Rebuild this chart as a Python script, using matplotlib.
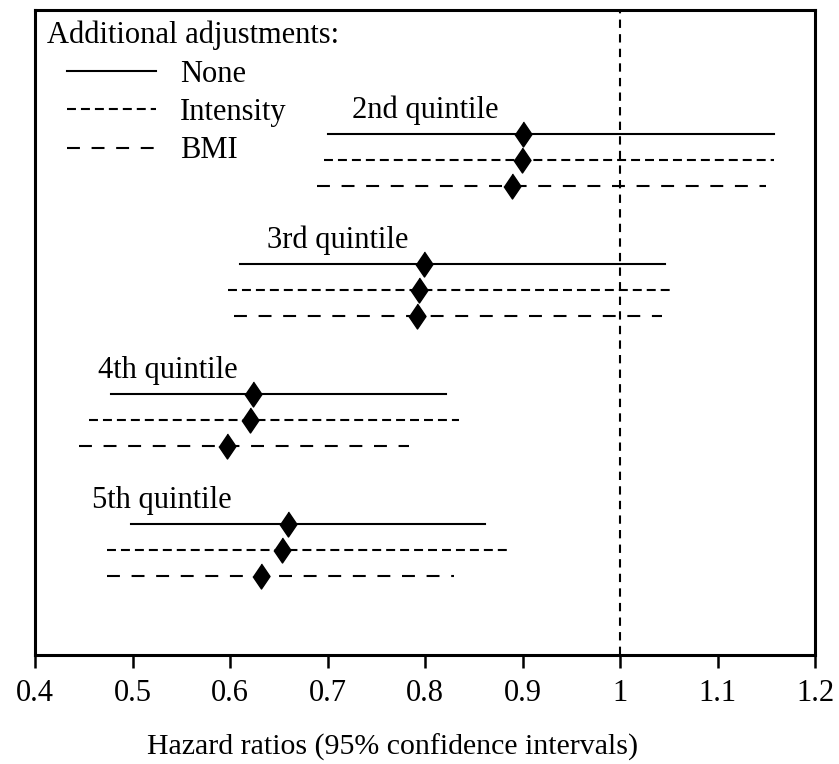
import matplotlib
matplotlib.use('Agg')
import matplotlib.pyplot as plt
import numpy as np

plt.rcParams['font.family'] = ['Liberation Serif', 'DejaVu Serif']

# hazard ratios with 95% CI
groups = ['2nd quintile', '3rd quintile', '4th quintile', '5th quintile']
adjustments = ['None', 'Intensity', 'BMI']
hr = [
    [0.90, 0.899, 0.889],
    [0.799, 0.794, 0.792],
    [0.624, 0.620, 0.597],
    [0.659, 0.653, 0.632],
]
ci_low = [
    [0.700, 0.696, 0.689],
    [0.610, 0.598, 0.604],
    [0.478, 0.455, 0.445],
    [0.498, 0.474, 0.474],
]
ci_high = [
    [1.158, 1.158, 1.150],
    [1.046, 1.052, 1.043],
    [0.822, 0.835, 0.784],
    [0.862, 0.887, 0.830],
]
label_x = [0.725, 0.638, 0.465, 0.458]
xticks = [0.4, 0.5, 0.6, 0.7, 0.8, 0.9, 1.0, 1.1, 1.2]
xtick_labels = ['0.4', '0.5', '0.6', '0.7', '0.8', '0.9', '1', '1.1', '1.2']

styles = {
    'None': dict(linestyle='-'),
    'Intensity': dict(linestyle=(0, (4.3, 2.4))),
    'BMI': dict(linestyle=(0, (6.2, 5.6))),
}
offsets = [-0.2, 0.0, 0.2]
diamond = [(0, 1), (0.68, 0), (0, -1), (-0.68, 0)]
FS = 22

fig = plt.figure(figsize=(8.39, 7.64), dpi=100)
ax = fig.add_axes([35 / 839, 109 / 764, 780 / 839, 645 / 764])

for i, name in enumerate(groups):
    for j, adj in enumerate(adjustments):
        y = i + offsets[j]
        ax.plot([ci_low[i][j], ci_high[i][j]], [y, y], color='black', lw=1.5,
                label=adj if i == 0 else None, **styles[adj])
        ax.plot(hr[i][j], y, marker=diamond, markersize=18, color='black',
                linestyle='none')
    ax.text(label_x[i], i - 0.32, name, fontsize=FS, ha='left',
            va='baseline')

ax.axvline(1.0, color='black', lw=1.5, linestyle=(0, (4, 3)))

ax.set_xlim(0.4, 1.2)
ax.set_ylim(3.81, -1.15)
ax.set_yticks([])
ax.set_xticks(xticks)
ax.set_xticklabels(xtick_labels, fontsize=FS)
ax.tick_params(axis='x', direction='out', length=9, width=1.8, pad=8)
for sp in ax.spines.values():
    sp.set_linewidth(2.2)
ax.set_xlabel('Hazard ratios (95% confidence intervals)', fontsize=21.5)
ax.xaxis.set_label_coords(0.458, -0.122)

ax.text(12 / 780, 1 - 25 / 645, 'Additional adjustments:', transform=ax.transAxes,
        fontsize=FS, ha='left', va='center')
ax.legend(loc='upper left', bbox_to_anchor=(32 / 780, 1 - 50 / 645),
          frameon=False, fontsize=FS, handlelength=2.9, handletextpad=0.8,
          labelspacing=0.3, borderpad=0, borderaxespad=0)

fig.savefig('out.png', dpi=100)
